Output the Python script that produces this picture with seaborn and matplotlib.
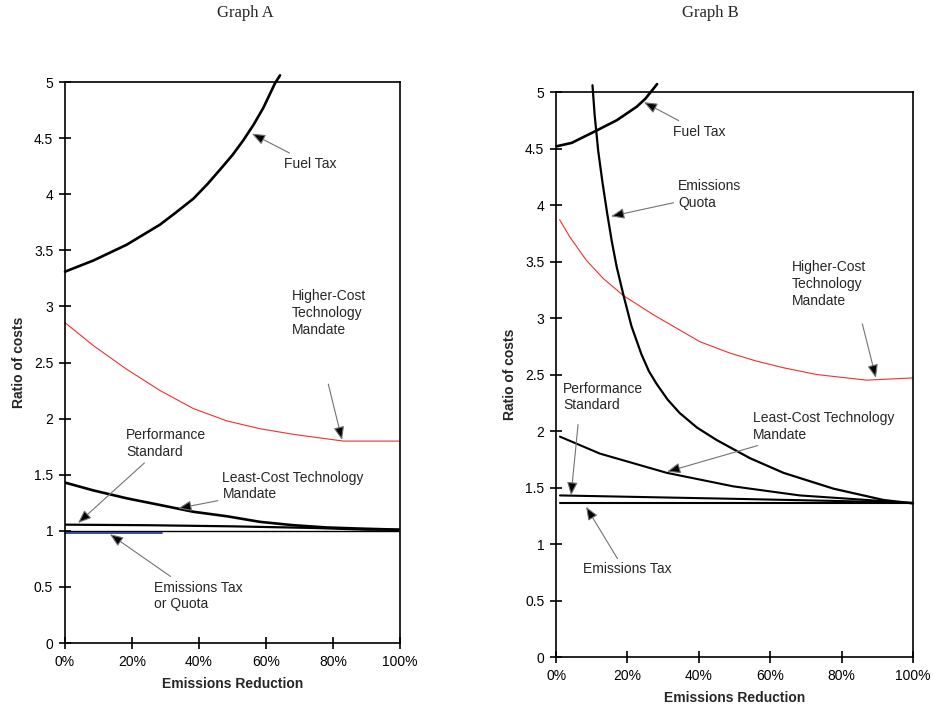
import numpy as np
import pandas as pd
import matplotlib as mpl
mpl.use("Agg")
from matplotlib import pyplot as plt
import seaborn as sns

# ---- Graph A data (x = emissions reduction in %, y = ratio of costs)
a_fuel_x = [0, 8.5, 18.4, 28.4, 33, 38.3, 42.5, 46.3, 50, 53.2, 56.3, 59.2, 62.7, 64.2]
a_fuel_y = [3.31, 3.41, 3.55, 3.73, 3.835, 3.96, 4.09, 4.22, 4.35, 4.48, 4.62, 4.77, 4.99, 5.06]
a_high_x = [0, 8.5, 18.4, 28.4, 38.3, 48.3, 58.2, 68.2, 78.1, 83.1, 100]
a_high_y = [2.855, 2.65, 2.44, 2.25, 2.09, 1.98, 1.91, 1.86, 1.82, 1.80, 1.80]
a_least_x = [0, 8.5, 18.4, 28.4, 38.3, 48.3, 58.2, 68.2, 78.1, 88, 100]
a_least_y = [1.43, 1.36, 1.29, 1.23, 1.17, 1.13, 1.08, 1.05, 1.03, 1.02, 1.01]
a_perf_x = [0, 25, 50, 75, 90, 100]
a_perf_y = [1.055, 1.05, 1.04, 1.025, 1.01, 1.01]
a_tax_x = [0, 100]
a_tax_y = [1.0, 1.0]
a_quota_x = [0, 29]
a_quota_y = [0.985, 0.985]

# ---- Graph B data
b_fuel_x = [0.2, 4.4, 11.4, 17, 22.6, 25, 27.3, 28.3]
b_fuel_y = [4.52, 4.55, 4.66, 4.75, 4.87, 4.94, 5.03, 5.07]
b_quota_x = [10.2, 10.8, 11.8, 13.0, 14.3, 15.6, 17.0, 18.9, 21.1, 23.9, 26, 28.1,
             31.2, 34.6, 39.5, 45, 54.3, 63.7, 77.7, 91.7, 100]
b_quota_y = [5.06, 4.80, 4.48, 4.20, 3.93, 3.68, 3.45, 3.20, 2.93, 2.68, 2.53, 2.42,
             2.28, 2.16, 2.03, 1.92, 1.76, 1.63, 1.49, 1.39, 1.36]
b_high_x = [1.0, 3.8, 8.5, 13.2, 18.8, 27.2, 40.3, 48.7, 56, 63.7, 73, 87, 100]
b_high_y = [3.87, 3.72, 3.51, 3.35, 3.20, 3.03, 2.79, 2.69, 2.62, 2.56, 2.50, 2.45, 2.47]
b_least_x = [1.1, 12.3, 31, 49.7, 68.3, 87, 100]
b_least_y = [1.95, 1.80, 1.63, 1.51, 1.43, 1.39, 1.36]
b_perf_x = [1.1, 50, 80, 100]
b_perf_y = [1.43, 1.40, 1.38, 1.365]
b_tax_x = [1.1, 100]
b_tax_y = [1.365, 1.365]

x_ticks = [0, 20, 40, 60, 80, 100]
x_labels = ["0%", "20%", "40%", "60%", "80%", "100%"]
y_ticks = [0, 0.5, 1, 1.5, 2, 2.5, 3, 3.5, 4, 4.5, 5]
y_labels = ["0", "0.5", "1", "1.5", "2", "2.5", "3", "3.5", "4", "4.5", "5"]

sns.set_style("ticks")
plt.rcParams["font.family"] = ["Liberation Sans", "DejaVu Sans"]

fig = plt.figure(figsize=(9.33, 7.11), dpi=100)
axA = fig.add_axes([0.0697, 0.0956, 0.359, 0.789])
axB = fig.add_axes([0.596, 0.0759, 0.3826, 0.7947])

ARROW = dict(arrowstyle="-|>,head_length=0.8,head_width=0.32",
             fc="black", ec="0.45", lw=0.8, shrinkA=1, shrinkB=0)


def line(ax, x, y, color="black", lw=1.6, clip=True):
    sns.lineplot(x=x, y=y, ax=ax, color=color, linewidth=lw, sort=False,
                 estimator=None, legend=False, clip_on=clip)


def note(ax, text, xy, xytext, start=None):
    if start is None:
        ax.annotate(text, xy=xy, xytext=xytext, fontsize=10, ha="left",
                    va="center", linespacing=1.25, arrowprops=ARROW)
    else:
        ax.text(xytext[0], xytext[1], text, fontsize=10, ha="left",
                va="center", linespacing=1.25)
        ax.annotate("", xy=xy, xytext=start, arrowprops=ARROW)


def style(ax):
    ax.set_xlim(0, 100)
    ax.set_ylim(0, 5)
    ax.set_xticks(x_ticks)
    ax.set_xticklabels(x_labels)
    ax.set_yticks(y_ticks)
    ax.set_yticklabels(y_labels)
    ax.tick_params(direction="inout", length=9, width=1.2, labelsize=10,
                   colors="black", pad=4)
    for s in ax.spines.values():
        s.set_visible(True)
        s.set_linewidth(1.2)
        s.set_color("black")
    ax.set_xlabel("Emissions Reduction", fontsize=10, fontweight="bold", labelpad=6)
    ax.set_ylabel("Ratio of costs", fontsize=10, fontweight="bold", labelpad=6)


# Graph A
line(axA, a_tax_x, a_tax_y, lw=1.0)
line(axA, a_quota_x, a_quota_y, color="#1a2a9c", lw=1.2)
line(axA, a_perf_x, a_perf_y, lw=1.6)
line(axA, a_least_x, a_least_y, lw=1.9)
line(axA, a_high_x, a_high_y, color="#f03030", lw=0.8)
line(axA, a_fuel_x, a_fuel_y, lw=1.9, clip=False)
style(axA)
note(axA, "Fuel Tax", (55.8, 4.54), (65.5, 4.27))
note(axA, "Higher-Cost\nTechnology\nMandate", (82.7, 1.81), (67.8, 2.94),
     start=(78.5, 2.32))
note(axA, "Performance\nStandard", (3.9, 1.07), (18.2, 1.78))
note(axA, "Least-Cost Technology\nMandate", (33.8, 1.20), (47.0, 1.40))
note(axA, "Emissions Tax\nor Quota", (13.4, 0.97), (26.6, 0.42))

# Graph B
line(axB, b_tax_x, b_tax_y, lw=1.5)
line(axB, b_perf_x, b_perf_y, lw=1.5)
line(axB, b_least_x, b_least_y, lw=1.5)
line(axB, b_high_x, b_high_y, color="#f03030", lw=0.8)
line(axB, b_quota_x, b_quota_y, lw=1.6, clip=False)
line(axB, b_fuel_x, b_fuel_y, lw=1.9, clip=False)
style(axB)
note(axB, "Fuel Tax", (24.6, 4.91), (32.8, 4.65))
note(axB, "Emissions\nQuota", (15.4, 3.90), (34.2, 4.09))
note(axB, "Higher-Cost\nTechnology\nMandate", (89.6, 2.47), (66.1, 3.30),
     start=(85.7, 2.96))
note(axB, "Performance\nStandard", (4.2, 1.43), (2.0, 2.30),
     start=(6.2, 2.07))
note(axB, "Least-Cost Technology\nMandate", (31.1, 1.64), (55.2, 2.04))
note(axB, "Emissions Tax", (8.4, 1.33), (7.6, 0.78), start=(17.4, 0.86))

fig.text(245 / 933, 1 - 13 / 711, "Graph A", ha="center", va="center",
         fontsize=12, family=["Liberation Serif", "DejaVu Serif"])
fig.text(710 / 933, 1 - 13 / 711, "Graph B", ha="center", va="center",
         fontsize=12, family=["Liberation Serif", "DejaVu Serif"])

fig.savefig("out.png", dpi=100)
